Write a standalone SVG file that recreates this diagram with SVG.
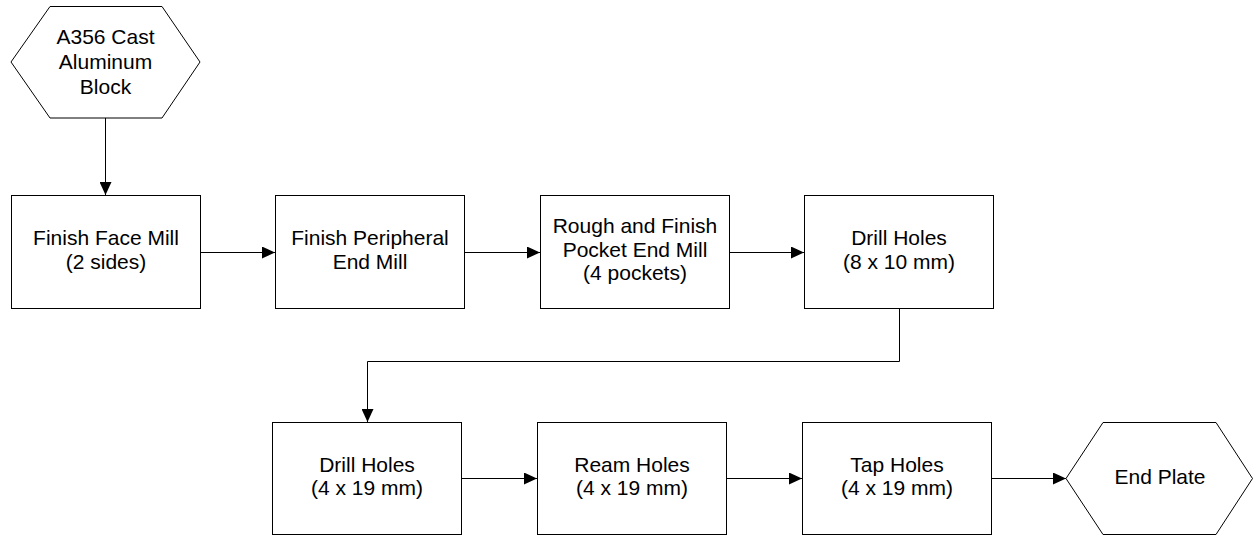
<svg xmlns="http://www.w3.org/2000/svg" width="1253" height="535" viewBox="0 0 1253 535">
  <style>
    .shape { fill: #ffffff; stroke: #000000; stroke-width: 1; }
    .lbl { font-family: "Liberation Sans", Arial, sans-serif; font-size: 21px; fill: #000000; text-anchor: middle; }
    .conn { fill: none; stroke: #000000; stroke-width: 1; }
  </style>
  <defs>
    <marker id="arrow" markerUnits="userSpaceOnUse" markerWidth="14" markerHeight="12" refX="13" refY="6" orient="auto">
      <path d="M0,0 L13,6 L0,12 Z" fill="#000000"/>
    </marker>
  </defs>
  <rect width="1253" height="535" fill="#ffffff"/>

  <g id="connectors">
    <path class="conn" d="M105.5,118 L105.5,195" marker-end="url(#arrow)"/>
    <path class="conn" d="M200,252.5 L275,252.5" marker-end="url(#arrow)"/>
    <path class="conn" d="M464,252.5 L540,252.5" marker-end="url(#arrow)"/>
    <path class="conn" d="M729,252.5 L804,252.5" marker-end="url(#arrow)"/>
    <path class="conn" d="M899.5,308 L899.5,361.5 L367.5,361.5 L367.5,422" marker-end="url(#arrow)"/>
    <path class="conn" d="M461,478.5 L537,478.5" marker-end="url(#arrow)"/>
    <path class="conn" d="M727,478.5 L802,478.5" marker-end="url(#arrow)"/>
    <path class="conn" d="M992,478.5 L1066,478.5" marker-end="url(#arrow)"/>
  </g>

  <g id="n-start">
    <polygon class="shape" points="11,62 50,6.5 162,6.5 200,62 162,118 50,118"/>
    <text class="lbl" x="105.5" y="44">A356 Cast</text>
    <text class="lbl" x="105.5" y="69">Aluminum</text>
    <text class="lbl" x="105.5" y="94">Block</text>
  </g>

  <g id="n-face-mill">
    <rect class="shape" x="11.5" y="195.5" width="189" height="113"/>
    <text class="lbl" x="106" y="245">Finish Face Mill</text>
    <text class="lbl" x="106" y="269">(2 sides)</text>
  </g>

  <g id="n-peripheral">
    <rect class="shape" x="275.5" y="195.5" width="189" height="113"/>
    <text class="lbl" x="370" y="245">Finish Peripheral</text>
    <text class="lbl" x="370" y="269">End Mill</text>
  </g>

  <g id="n-pocket">
    <rect class="shape" x="540.5" y="195.5" width="189" height="113"/>
    <text class="lbl" x="635" y="233">Rough and Finish</text>
    <text class="lbl" x="635" y="257">Pocket End Mill</text>
    <text class="lbl" x="635" y="280">(4 pockets)</text>
  </g>

  <g id="n-drill-10">
    <rect class="shape" x="804.5" y="195.5" width="189" height="113"/>
    <text class="lbl" x="899" y="245">Drill Holes</text>
    <text class="lbl" x="899" y="269">(8 x 10 mm)</text>
  </g>

  <g id="n-drill-19">
    <rect class="shape" x="272.5" y="422.5" width="189" height="112"/>
    <text class="lbl" x="367" y="472">Drill Holes</text>
    <text class="lbl" x="367" y="495">(4 x 19 mm)</text>
  </g>

  <g id="n-ream">
    <rect class="shape" x="537.5" y="422.5" width="189" height="112"/>
    <text class="lbl" x="632" y="472">Ream Holes</text>
    <text class="lbl" x="632" y="495">(4 x 19 mm)</text>
  </g>

  <g id="n-tap">
    <rect class="shape" x="802.5" y="422.5" width="189" height="112"/>
    <text class="lbl" x="897" y="472">Tap Holes</text>
    <text class="lbl" x="897" y="495">(4 x 19 mm)</text>
  </g>

  <g id="n-end">
    <polygon class="shape" points="1066,478.5 1103,422.5 1216,422.5 1252.5,478.5 1216,534.5 1103,534.5"/>
    <text class="lbl" x="1160" y="484">End Plate</text>
  </g>
</svg>
